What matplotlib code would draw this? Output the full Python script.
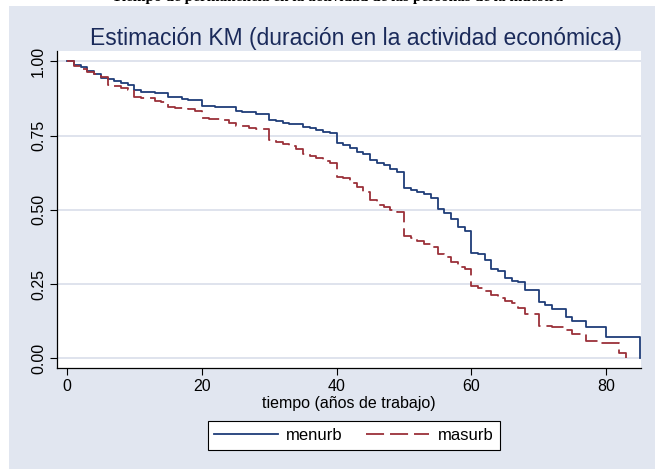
import matplotlib
matplotlib.use("Agg")
import matplotlib.pyplot as plt
from matplotlib.patches import Rectangle

plt.rcParams['font.family'] = ['Liberation Sans', 'DejaVu Sans']

# Kaplan-Meier estimates
t_menurb = [0, 1, 2, 3, 4, 5, 6, 7, 8, 9, 10, 11, 13, 15, 17, 18, 20, 22, 25, 26, 28,
            30, 31, 32, 33, 35, 36, 37, 38, 39, 40, 41, 42, 43, 44, 45, 46, 47, 48, 49,
            50, 51, 52, 53, 54, 55, 56, 57, 58, 59, 60, 61, 62, 63, 64, 65, 66, 67, 68,
            70, 71, 72, 74, 75, 77, 80, 85]
s_menurb = [1.0, 0.988, 0.98, 0.967, 0.957, 0.945, 0.94, 0.934, 0.928, 0.92, 0.902, 0.898,
            0.892, 0.881, 0.874, 0.871, 0.851, 0.845, 0.834, 0.829, 0.823,
            0.802, 0.798, 0.793, 0.789, 0.780, 0.774, 0.769, 0.763, 0.758, 0.724, 0.717,
            0.707, 0.694, 0.689, 0.668, 0.657, 0.651, 0.637, 0.626,
            0.572, 0.567, 0.561, 0.553, 0.539, 0.502, 0.488, 0.469, 0.443, 0.43, 0.356,
            0.35, 0.331, 0.301, 0.294, 0.269, 0.26, 0.256, 0.23,
            0.188, 0.178, 0.166, 0.138, 0.126, 0.106, 0.071, 0.0]

t_masurb = [0, 1, 2, 3, 4, 5, 6, 7, 8, 9, 10, 11, 13, 14, 15, 16, 18, 19, 20, 21, 23, 24,
            25, 27, 28, 30, 31, 32, 33, 34, 35, 36, 37, 38, 39, 40, 41, 42, 43, 44, 45,
            46, 47, 48, 49, 50, 51, 52, 53, 54, 55, 56, 57, 58, 59, 60, 61, 62, 63, 64,
            65, 66, 67, 68, 70, 72, 74, 75, 77, 79, 82, 83]
s_masurb = [1.0, 0.985, 0.976, 0.963, 0.956, 0.946, 0.922, 0.916, 0.909, 0.902, 0.88, 0.875,
            0.866, 0.862, 0.847, 0.844, 0.838, 0.833, 0.81, 0.806, 0.802, 0.791,
            0.782, 0.776, 0.771, 0.735, 0.729, 0.721, 0.715, 0.705, 0.688, 0.682, 0.676,
            0.664, 0.659, 0.611, 0.608, 0.591, 0.578, 0.561, 0.533,
            0.516, 0.51, 0.499, 0.494, 0.412, 0.406, 0.395, 0.385, 0.374, 0.35, 0.342,
            0.323, 0.308, 0.301, 0.244, 0.238, 0.227, 0.213, 0.202,
            0.193, 0.186, 0.168, 0.148, 0.11, 0.106, 0.095, 0.081, 0.059, 0.05, 0.019, 0.0]

x_ticks = [0, 20, 40, 60, 80]
y_ticks = [0.0, 0.25, 0.50, 0.75, 1.00]
y_ticklabels = ["0.00", "0.25", "0.50", "0.75", "1.00"]

BG = "#E1E6F0"
GRID = "#D9DEEA"
NAVY = "#1F3D78"
MAROON = "#9B3039"

W, H = 655, 469
fig = plt.figure(figsize=(W / 100, H / 100), dpi=100, facecolor="white")

# bluish graph region (white strip on top and left)
fig.patches.append(Rectangle((9 / W, 0), 1 - 9 / W, 1 - 6 / H,
                             transform=fig.transFigure, facecolor=BG,
                             edgecolor="none", zorder=-5))

# cut-off caption of the source document
fig.text(0.515, 1 - 1 / H, "Tiempo de permanencia en la actividad de las personas de la muestra",
         ha="center", va="baseline", fontsize=11, fontweight="bold",
         family=["Liberation Serif", "DejaVu Serif"], color="black", zorder=-4)

ax = fig.add_axes([57 / W, 1 - 368 / H, (641 - 57) / W, (368 - 51) / H])
ax.set_facecolor("white")

ax.step(t_menurb, s_menurb, where="post", color=NAVY, lw=1.3, label="menurb")
ax.step(t_masurb, s_masurb, where="post", color=MAROON, lw=1.3,
        dashes=(10, 3.3), label="masurb")

ax.set_xlim(-1.5, 85.2)
ax.set_ylim(-0.033, 1.035)
ax.set_xticks(x_ticks)
ax.set_yticks(y_ticks)
ax.set_yticklabels(y_ticklabels, rotation=90, va="center")
ax.tick_params(axis="both", labelsize=11.5, length=5, width=0.8, color="black", pad=3)
ax.grid(axis="y", color=GRID, lw=1.2)
ax.set_axisbelow(True)

for side in ["top", "right"]:
    ax.spines[side].set_visible(False)
for side in ["left", "bottom"]:
    ax.spines[side].set_linewidth(0.9)

ax.set_xlabel("tiempo (años de trabajo)", fontsize=11.5, labelpad=1)
fig.text(356 / W, 1 - 38 / H, "Estimación KM (duración en la actividad económica)",
         ha="center", va="center", fontsize=16.5, color="#1A2A5A")

leg = fig.legend(loc="center", bbox_to_anchor=(354 / W, 1 - 435.5 / H), ncol=2,
                 fontsize=12, frameon=True, fancybox=False, edgecolor="black",
                 framealpha=1, handlelength=3.8, columnspacing=1.4, handletextpad=0.5,
                 borderpad=0.4)
leg.get_frame().set_linewidth(0.8)

fig.savefig("out.png", dpi=100, facecolor="white")
